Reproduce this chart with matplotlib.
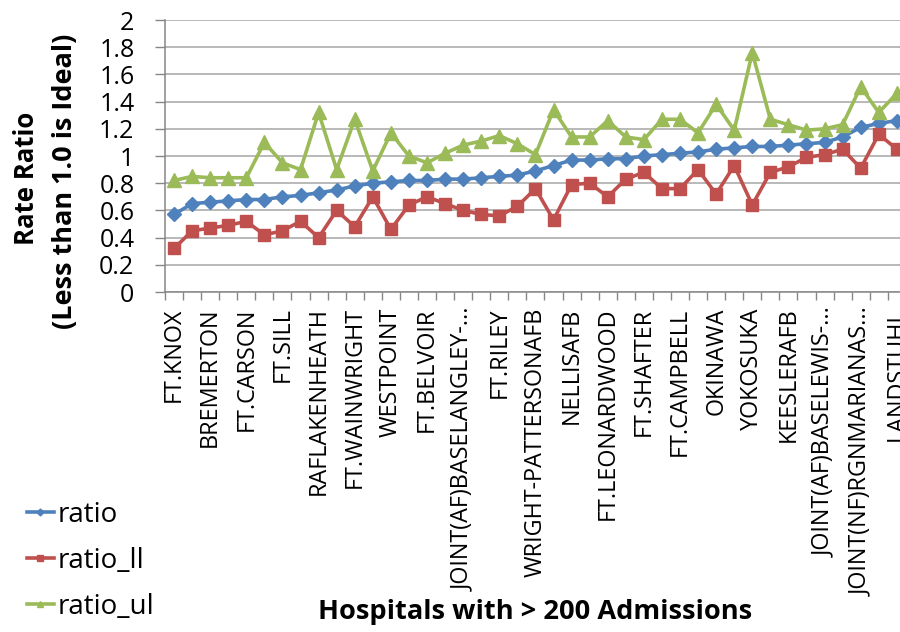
import matplotlib
matplotlib.use("Agg")
import matplotlib.pyplot as plt
from matplotlib.ticker import FixedLocator, FuncFormatter
import numpy as np

plt.rcParams['font.family'] = ['Open Sans', 'DejaVu Sans']

# Hospitals labelled on the category axis (every other hospital)
hospitals = [
    "FT.KNOX", "BREMERTON", "FT.CARSON", "FT.SILL", "RAFLAKENHEATH",
    "FT.WAINWRIGHT", "WESTPOINT", "FT.BELVOIR", "JOINT(AF)BASELANGLEY-...",
    "FT.RILEY", "WRIGHT-PATTERSONAFB", "NELLISAFB", "FT.LEONARDWOOD",
    "FT.SHAFTER", "FT.CAMPBELL", "OKINAWA", "YOKOSUKA", "KEESLERAFB",
    "JOINT(AF)BASELEWIS-...", "JOINT(NF)RGNMARIANAS...", "LANDSTUHL",
]

ratio = [
    0.57, 0.65, 0.66, 0.67, 0.68, 0.68, 0.70, 0.71, 0.73, 0.75,
    0.78, 0.80, 0.81, 0.82, 0.82, 0.83, 0.83, 0.84, 0.85, 0.86,
    0.89, 0.93, 0.97, 0.97, 0.98, 0.98, 1.00, 1.01, 1.02, 1.03,
    1.05, 1.06, 1.07, 1.07, 1.08, 1.09, 1.10, 1.14, 1.21, 1.24, 1.26,
]
ratio_ll = [
    0.32, 0.45, 0.47, 0.49, 0.52, 0.42, 0.45, 0.52, 0.40, 0.60,
    0.48, 0.70, 0.46, 0.64, 0.70, 0.65, 0.60, 0.57, 0.56, 0.63,
    0.76, 0.53, 0.79, 0.80, 0.70, 0.83, 0.88, 0.76, 0.76, 0.90,
    0.72, 0.93, 0.64, 0.88, 0.92, 0.99, 1.01, 1.05, 0.91, 1.16, 1.05,
]
ratio_ul = [
    0.82, 0.85, 0.84, 0.84, 0.84, 1.10, 0.95, 0.90, 1.32, 0.90,
    1.27, 0.89, 1.17, 1.00, 0.95, 1.02, 1.08, 1.11, 1.15, 1.09,
    1.01, 1.34, 1.14, 1.14, 1.26, 1.14, 1.12, 1.27, 1.27, 1.17,
    1.38, 1.19, 1.76, 1.27, 1.23, 1.19, 1.20, 1.23, 1.51, 1.32, 1.46,
]

n = len(ratio)
x = np.arange(n)

fig = plt.figure(figsize=(9.0, 6.32), dpi=100)
W, H = 900.0, 632.0
left, right, top, bottom = 165, 165 + n * 18.07, 20, 292
ax = fig.add_axes([left / W, 1 - bottom / H, (right - left) / W, (bottom - top) / H])

series = [
    (ratio, "ratio", "#4F81BD", "D", 7),
    (ratio_ll, "ratio_ll", "#C0504D", "s", 9),
    (ratio_ul, "ratio_ul", "#9BBB59", "^", 10),
]
handles = []
for vals, name, col, mk, ms in series:
    h, = ax.plot(x, vals, color=col, lw=2.6, marker=mk, ms=ms,
                 markeredgecolor=col, markerfacecolor=col, label=name, zorder=3,
                 clip_on=False)
    handles.append(h)

ax.set_xlim(-0.5, n - 0.5)
ax.set_ylim(0, 2)

# y axis
ax.yaxis.set_major_locator(FixedLocator(np.round(np.arange(0, 2.01, 0.2), 1)))
ax.yaxis.set_major_formatter(FuncFormatter(lambda v, p: f"{v:g}"))
ax.tick_params(axis="y", which="major", length=7, width=1, color="#868686",
               labelsize=18, pad=15)
ax.grid(axis="y", color="#A6A6A6", lw=1.1)
ax.set_axisbelow(True)

# category axis: tick marks between categories, labels on every other one
ax.set_xticks(np.arange(-0.5, n, 1.0), minor=True)
ax.set_xticks(x[::2])
ax.set_xticklabels(hospitals, rotation=90, va="top", ha="center")
ax.tick_params(axis="x", which="minor", length=6, width=1, color="#868686")
ax.tick_params(axis="x", which="major", length=0, labelsize=16.8, pad=11)

for s in ["top", "right"]:
    ax.spines[s].set_visible(False)
for s in ["left", "bottom"]:
    ax.spines[s].set_color("#868686")
    ax.spines[s].set_linewidth(1.1)

# axis titles
fig.text(26 / W, 1 - 178 / H, "Rate Ratio", rotation=90, ha="center",
         va="center", fontsize=18.5, fontweight="bold")
fig.text(65 / W, 1 - 181 / H, "(Less than 1.0 is Ideal)", rotation=90,
         ha="center", va="center", fontsize=19.5, fontweight="bold")
fig.text(535 / W, 1 - 612 / H, "Hospitals with > 200 Admissions",
         ha="center", va="center", fontsize=19.6, fontweight="bold")

fig.legend(handles=handles, labels=[h.get_label() for h in handles],
           loc="upper left", bbox_to_anchor=(16 / W, 1 - 490 / H),
           frameon=False, fontsize=20, handlelength=0.95, handletextpad=0.15,
           labelspacing=0.64, markerscale=0.5, borderaxespad=0)

fig.savefig("out.png", dpi=100)
